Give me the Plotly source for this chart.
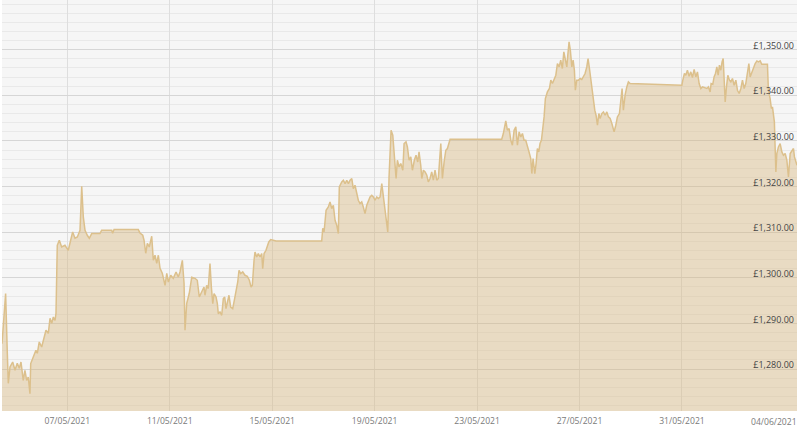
import pandas as pd
import plotly.graph_objects as go

# price history, hours counted from 04/05/2021 00:00
start = "2021-05-04 00:00"
hours = [
    10.8, 14.2, 15.7, 16.7, 18.3, 20.8, 23.0, 25.1, 27.0, 28.6, 30.7, 32.3, 33.9, 35.4, 37.0, 37.7,
    40.1, 42.6, 43.9, 45.7, 48.0, 49.5, 52.0, 54.2, 55.8, 57.4, 58.9, 60.5, 61.4, 62.6, 64.5, 66.7,
    69.8, 72.9, 75.2, 77.0, 79.2, 81.4, 83.9, 85.5, 87.0, 88.6, 90.7, 92.6, 94.9, 102.6, 104.2, 113.6,
    114.5, 115.8, 138.5, 140.1, 142.7, 143.9, 145.5, 147.0, 148.8, 151.1, 152.6, 154.2, 155.8, 157.3,
    158.9, 161.0, 163.6, 165.2, 166.7, 168.9, 171.3, 173.9, 176.0, 177.6, 179.8, 181.4, 182.3, 183.9,
    186.3, 188.6, 191.7, 193.8, 195.7, 197.3, 198.9, 200.1, 201.0, 202.6, 204.1, 205.7, 207.0, 208.3,
    209.5, 211.4, 212.6, 213.5, 215.1, 216.7, 218.2, 219.5, 220.7, 222.0, 223.5, 225.1, 227.0, 228.5,
    230.1, 231.7, 232.9, 234.5, 236.4, 238.5, 240.7, 242.6, 244.2, 245.4, 247.0, 247.9, 249.5, 251.0,
    252.6, 254.2, 255.1, 256.4, 258.2, 259.4, 260.8, 262.6, 264.5, 267.6, 310.4, 311.4, 312.6, 314.5,
    316.6, 318.2, 319.8, 321.3, 322.9, 324.5, 326.0, 326.9, 329.2, 330.7, 332.3, 333.9, 335.4, 337.0,
    338.6, 340.0, 341.6, 343.2, 344.7, 346.3, 347.9, 349.4, 351.0, 352.6, 354.1, 355.7, 357.3, 358.8,
    360.4, 362.0, 363.5, 365.1, 366.7, 368.2, 369.1, 370.4, 372.3, 373.5, 374.5, 375.4, 377.0, 378.2,
    380.1, 381.3, 382.9, 384.5, 386.4, 387.6, 389.4, 390.7, 392.3, 393.9, 395.4, 397.2, 398.8, 400.4,
    401.6, 403.2, 404.2, 405.7, 407.3, 408.9, 410.3, 411.9, 413.5, 415.0, 416.6, 418.2, 419.7, 422.0,
    423.5, 425.1, 426.7, 428.2, 429.5, 430.7, 479.1, 480.6, 482.9, 484.4, 486.0, 487.6, 489.1, 490.7,
    492.3, 493.8, 495.4, 497.0, 498.5, 500.0, 501.6, 503.1, 504.7, 506.3, 507.3, 508.5, 510.1, 511.3,
    512.5, 513.8, 515.0, 516.3, 517.6, 518.8, 520.0, 521.9, 523.8, 525.1, 526.6, 528.2, 529.8, 531.3,
    532.9, 534.4, 535.9, 537.3, 538.5, 540.1, 541.0, 542.2, 543.4, 544.8, 546.0, 547.2, 548.1, 549.4,
    550.9, 552.5, 554.1, 555.6, 557.2, 558.8, 560.0, 561.3, 562.6, 563.8, 565.0, 566.3, 567.5, 568.8,
    570.1, 571.3, 572.9, 574.4, 576.0, 577.6, 579.1, 580.7, 582.3, 584.4, 586.0, 587.5, 589.4, 590.7,
    591.9, 593.1, 594.7, 596.3, 597.8, 599.4, 647.9, 648.8, 650.3, 651.6, 653.1, 654.7, 656.3, 657.8,
    659.4, 661.0, 662.5, 664.1, 665.7, 667.2, 669.7, 671.3, 672.8, 674.4, 675.3, 676.9, 678.1, 679.4,
    680.7, 681.9, 683.1, 684.4, 685.6, 686.6, 687.5, 688.5, 689.7, 691.0, 692.5, 693.8, 695.3, 696.9,
    698.5, 700.0, 701.6, 703.2, 704.7, 706.3, 707.8, 709.3, 710.7, 711.9, 713.5, 715.0, 716.6, 718.2,
    719.7, 721.3, 722.8, 728.1, 729.0, 730.6, 731.8, 732.8, 733.7, 734.6, 735.3, 736.0, 736.9, 738.4,
    740.0, 741.6, 743.1, 744.7, 746.3, 747.8, 749.4, 751.0, 752.5, 753.4, 755.8,
]
prices = [
    1285.57, 1296.54, 1284.10, 1276.87, 1280.46, 1281.54, 1279.72, 1281.25, 1280.16, 1281.54, 1277.53, 1279.72, 1277.53, 1278.25, 1274.61, 1281.19,
    1282.64, 1284.10, 1283.45, 1285.93, 1284.83, 1286.30, 1288.49, 1287.83, 1291.12, 1290.03, 1291.41, 1290.68, 1292.22, 1307.13, 1308.23, 1306.76,
    1307.13, 1306.03, 1308.23, 1310.05, 1308.67, 1308.95, 1310.42, 1320.07, 1313.34, 1310.42, 1309.32, 1308.67, 1309.70, 1309.70, 1310.42, 1310.42,
    1309.76, 1310.57, 1310.57, 1309.83, 1309.32, 1308.23, 1305.38, 1307.57, 1306.76, 1309.11, 1303.84, 1304.94, 1303.18, 1304.94,
    1302.09, 1300.99, 1298.36, 1300.99, 1299.08, 1300.55, 1299.89, 1301.28, 1300.18, 1301.28, 1303.84, 1298.80, 1288.49, 1294.41,
    1296.61, 1300.11, 1299.89, 1299.46, 1295.79, 1296.54, 1297.26, 1297.99, 1296.17, 1298.36, 1297.64, 1303.12, 1297.99, 1294.35,
    1296.54, 1295.79, 1294.35, 1292.15, 1292.50, 1291.78, 1295.44, 1295.79, 1293.25, 1294.35, 1296.17, 1293.60, 1293.25, 1295.07,
    1296.89, 1299.08, 1301.65, 1300.92, 1301.28, 1300.55, 1300.33, 1299.46, 1297.99, 1298.36, 1303.84, 1305.66, 1304.57, 1305.31,
    1304.57, 1305.31, 1302.02, 1305.31, 1306.03, 1306.91, 1307.86, 1308.38, 1308.23, 1308.07, 1308.07, 1310.86, 1310.05, 1314.81,
    1315.53, 1316.63, 1315.18, 1315.90, 1312.61, 1311.52, 1309.70, 1319.92, 1321.01, 1321.39, 1320.66, 1321.39, 1320.66, 1321.39,
    1321.76, 1319.57, 1320.29, 1318.10, 1317.00, 1316.28, 1316.63, 1315.53, 1314.08, 1315.90, 1317.00, 1317.72, 1318.10, 1317.72,
    1317.00, 1317.72, 1317.37, 1317.72, 1320.66, 1317.72, 1317.00, 1313.34, 1310.05, 1322.11, 1328.69, 1332.35, 1331.25, 1327.96,
    1321.76, 1325.77, 1324.30, 1325.05, 1323.58, 1329.43, 1329.79, 1328.69, 1325.77, 1326.50, 1323.58, 1325.77, 1326.87, 1325.40,
    1327.59, 1324.68, 1321.76, 1323.58, 1323.21, 1322.48, 1321.01, 1321.76, 1323.21, 1321.39, 1323.58, 1321.39, 1321.76, 1329.43,
    1321.76, 1325.40, 1327.96, 1328.34, 1329.79, 1330.38, 1330.38, 1331.63, 1334.39, 1332.35, 1332.72, 1330.16, 1329.06, 1332.35,
    1333.08, 1329.06, 1331.98, 1330.88, 1331.63, 1330.16, 1330.16, 1329.06, 1327.59, 1326.14, 1322.85, 1326.14, 1322.85, 1325.05,
    1328.34, 1327.59, 1329.43, 1330.16, 1332.35, 1335.27, 1339.30, 1340.75, 1341.50, 1343.32, 1342.59, 1343.69, 1344.41, 1346.98,
    1346.23, 1347.70, 1345.88, 1349.52, 1348.07, 1346.23, 1348.80, 1351.72, 1349.89, 1346.23, 1347.70, 1345.51, 1341.12, 1343.32,
    1343.32, 1343.69, 1343.47, 1344.04, 1344.79, 1346.23, 1348.07, 1345.88, 1343.32, 1341.12, 1338.93, 1336.74, 1335.64, 1333.45,
    1336.01, 1334.92, 1336.01, 1336.36, 1335.64, 1336.36, 1335.27, 1334.92, 1333.82, 1331.98, 1333.45, 1335.27, 1336.01, 1339.65,
    1341.50, 1336.74, 1340.03, 1341.85, 1342.94, 1342.59, 1342.22, 1343.32, 1344.79, 1344.41, 1345.51, 1344.19, 1345.14, 1343.91,
    1345.66, 1344.04, 1345.14, 1342.59, 1341.50, 1341.85, 1341.72, 1341.50, 1341.85, 1340.75, 1342.59, 1342.44, 1344.04, 1344.79,
    1346.23, 1344.41, 1346.61, 1345.51, 1347.33, 1348.07, 1343.69, 1338.56, 1341.85, 1344.41, 1343.32, 1342.94, 1343.69, 1342.22,
    1343.32, 1341.12, 1340.40, 1341.50, 1343.32, 1341.50, 1342.59, 1344.79, 1346.98, 1344.04, 1345.14, 1346.23, 1346.98, 1347.55,
    1347.33, 1347.55, 1346.82, 1346.82, 1341.12, 1339.30, 1337.11, 1337.46, 1335.64, 1334.17, 1328.69, 1323.21, 1327.24, 1328.69,
    1329.43, 1327.59, 1326.87, 1327.24, 1325.77, 1322.11, 1327.24, 1327.96, 1328.34, 1326.50, 1324.68,
]

x_ticks = ["2021-05-07", "2021-05-11", "2021-05-15", "2021-05-19",
           "2021-05-23", "2021-05-27", "2021-05-31", "2021-06-04"]
x_tick_labels = ["07/05/2021", "11/05/2021", "15/05/2021", "19/05/2021",
                 "23/05/2021", "27/05/2021", "31/05/2021", "04/06/2021"]
y_ticks = [1280, 1290, 1300, 1310, 1320, 1330, 1340, 1350]
y_tick_labels = ["£1,280.00", "£1,290.00", "£1,300.00", "£1,310.00",
                 "£1,320.00", "£1,330.00", "£1,340.00", "£1,350.00"]

dates = pd.Timestamp(start) + pd.to_timedelta(hours, unit="h")
label_color = "#7a7a7a"

# plotly drops the last date label since it runs past the right edge,
# so that tick keeps an empty label and the text goes in as an annotation
x_text = x_tick_labels[:-1] + [""]

fig = go.Figure()
fig.add_trace(go.Scatter(
    x=dates, y=prices, mode="lines",
    line=dict(color="rgb(220,192,140)", width=1.5),
    fill="tozeroy", fillcolor="rgba(214,180,120,0.4)",
    hoverinfo="x+y",
))
fig.add_annotation(
    x=pd.Timestamp(x_ticks[-1]), xref="x", y=0, yref="paper",
    text=x_tick_labels[-1], showarrow=False,
    xanchor="center", yanchor="top", xshift=-10, yshift=-3,
    font=dict(family="Open Sans", size=8.6, color=label_color),
)

fig.update_layout(
    width=800, height=428,
    margin=dict(l=2, r=3, t=0, b=17),
    paper_bgcolor="white",
    plot_bgcolor="#f6f6f6",
    showlegend=False,
    font=dict(family="Open Sans", size=9, color=label_color),
)
fig.update_xaxes(
    range=[dates[0], dates[-1]],
    tickvals=pd.to_datetime(x_ticks), ticktext=x_text,
    tickfont=dict(size=8.6),
    showgrid=True, gridcolor="#dedede", gridwidth=1,
    showline=False, zeroline=False, ticks="", ticklen=0,
    ticklabelstandoff=3, automargin=False,
)
fig.update_yaxes(
    range=[1270.8, 1360.9],
    side="right", ticklabelposition="inside",
    tickvals=y_ticks, ticktext=y_tick_labels,
    ticklabelshift=-4, ticklabelstandoff=0,
    showgrid=True, gridcolor="#d6d6d6", gridwidth=1,
    minor=dict(dtick=2, showgrid=True, gridcolor="#e9e9e9", gridwidth=1),
    showline=False, zeroline=False, ticks="", automargin=False,
)

fig.write_html("out.html", config={"displayModeBar": False},
               post_script="document.body.style.margin='0';")
